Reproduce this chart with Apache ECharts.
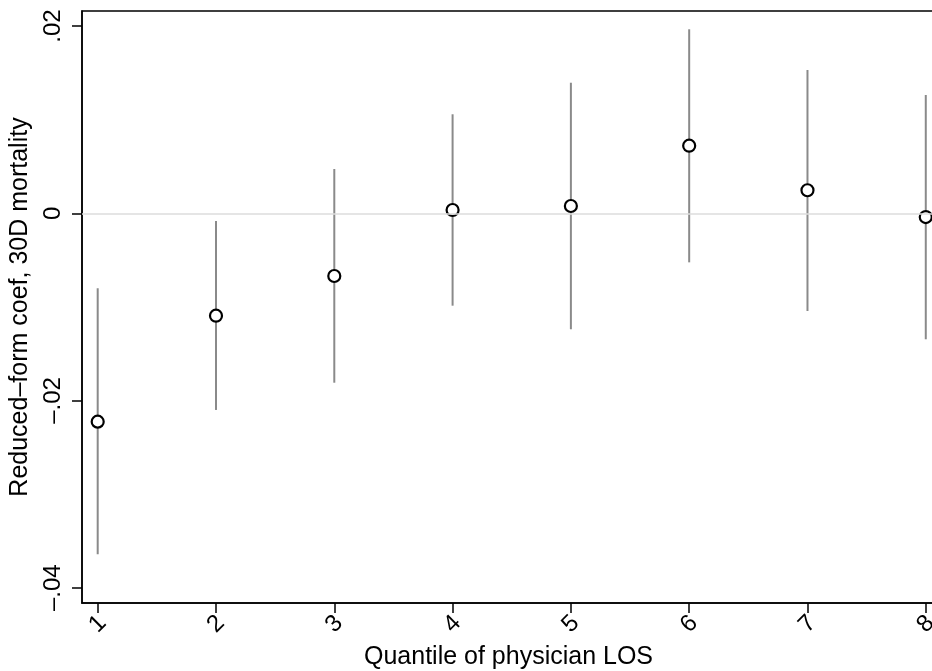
<!DOCTYPE html>
<html>
<head>
<meta charset="utf-8">
<script src="https://cdn.jsdelivr.net/npm/echarts@6/dist/echarts.min.js"></script>
<style>
html, body { margin: 0; padding: 0; background: #fff; }
#ReducedForm { width: 932px; height: 671px; }
</style>
</head>
<body>
<div id="ReducedForm"></div>
<script>
// data
var quantiles = [1, 2, 3, 4, 5, 6, 7, 8];
var coef  = [-0.02226, -0.01094, -0.00670, 0.00035, 0.00078, 0.00722, 0.00246, -0.00040];
var ciLow = [-0.03643, -0.02101, -0.01810, -0.00987, -0.01239, -0.00524, -0.01044, -0.01346];
var ciHigh = [-0.00801, -0.00082, 0.00473, 0.01058, 0.01395, 0.01966, 0.01531, 0.01264];
var yTickValues = [-0.04, -0.02, 0, 0.02];
var yTickLabels = ['\u2013.04', '\u2013.02', '0', '.02'];

var pointData = quantiles.map(function (q, i) { return [q, coef[i]]; });
var barData = quantiles.map(function (q, i) { return [q, ciLow[i], ciHigh[i]]; });

var fontName = "'Liberation Sans', Arial, Helvetica, sans-serif";

var dom = document.getElementById("ReducedForm");
var myChart = echarts.init(dom);
var option = {
    animation: false,
    grid: {
        left: 82,
        right: -3,
        top: 11,
        bottom: 68,
        containLabel: false,
        outerBoundsMode: 'none',
        show: true,
        borderColor: '#000',
        borderWidth: 1.5
    },
    xAxis: {
        type: 'value',
        min: 0.8673,
        max: 8.078,
        name: 'Quantile of physician LOS',
        nameLocation: 'middle',
        nameGap: 33,
        nameTextStyle: { fontFamily: fontName, fontSize: 25, color: '#000' },
        axisLine: { show: true, onZero: false, lineStyle: { color: '#000', width: 1.5 } },
        axisTick: {
            show: true,
            length: 10,
            customValues: quantiles,
            lineStyle: { color: '#000', width: 1.5 }
        },
        axisLabel: {
            customValues: quantiles,
            rotate: 45,
            margin: 21,
            align: 'center',
            verticalAlign: 'middle',
            fontFamily: fontName,
            fontSize: 24,
            color: '#000'
        },
        splitLine: { show: false }
    },
    yAxis: {
        type: 'value',
        min: -0.041635,
        max: 0.021613,
        name: 'Reduced\u2013form coef, 30D mortality',
        nameLocation: 'middle',
        nameGap: 48,
        nameRotate: 90,
        nameTextStyle: { fontFamily: fontName, fontSize: 25, color: '#000' },
        axisLine: { show: true, onZero: false, lineStyle: { color: '#000', width: 1.5 } },
        axisTick: {
            show: true,
            length: 10,
            customValues: yTickValues,
            lineStyle: { color: '#000', width: 1.5 }
        },
        axisLabel: {
            customValues: yTickValues,
            rotate: 90,
            margin: 29,
            align: 'center',
            verticalAlign: 'middle',
            fontFamily: fontName,
            fontSize: 24,
            color: '#000',
            formatter: function (v) {
                for (var i = 0; i < yTickValues.length; i++) {
                    if (Math.abs(v - yTickValues[i]) < 1e-9) return yTickLabels[i];
                }
                return '';
            }
        },
        splitLine: { show: false }
    },
    series: [
        {
            // zero reference line
            type: 'line',
            data: [],
            z: 1,
            markLine: {
                silent: true,
                symbol: 'none',
                label: { show: false },
                lineStyle: { color: '#dcdcdc', width: 1.5, type: 'solid' },
                data: [{ yAxis: 0 }]
            }
        },
        {
            // confidence interval spikes
            type: 'custom',
            z: 2,
            data: barData,
            renderItem: function (params, api) {
                var lo = api.coord([api.value(0), api.value(1)]);
                var hi = api.coord([api.value(0), api.value(2)]);
                return {
                    type: 'line',
                    shape: { x1: lo[0], y1: lo[1], x2: hi[0], y2: hi[1] },
                    style: { stroke: '#8a8a8a', lineWidth: 2 }
                };
            }
        },
        {
            type: 'scatter',
            z: 3,
            data: pointData,
            symbol: 'circle',
            symbolSize: 12,
            itemStyle: { color: '#fff', borderColor: '#000', borderWidth: 2.2, opacity: 1 }
        }
    ]
};
if (option && typeof option === "object") {
    myChart.setOption(option, true);
    window.onresize = myChart.resize;
}
</script>
</body>
</html>
